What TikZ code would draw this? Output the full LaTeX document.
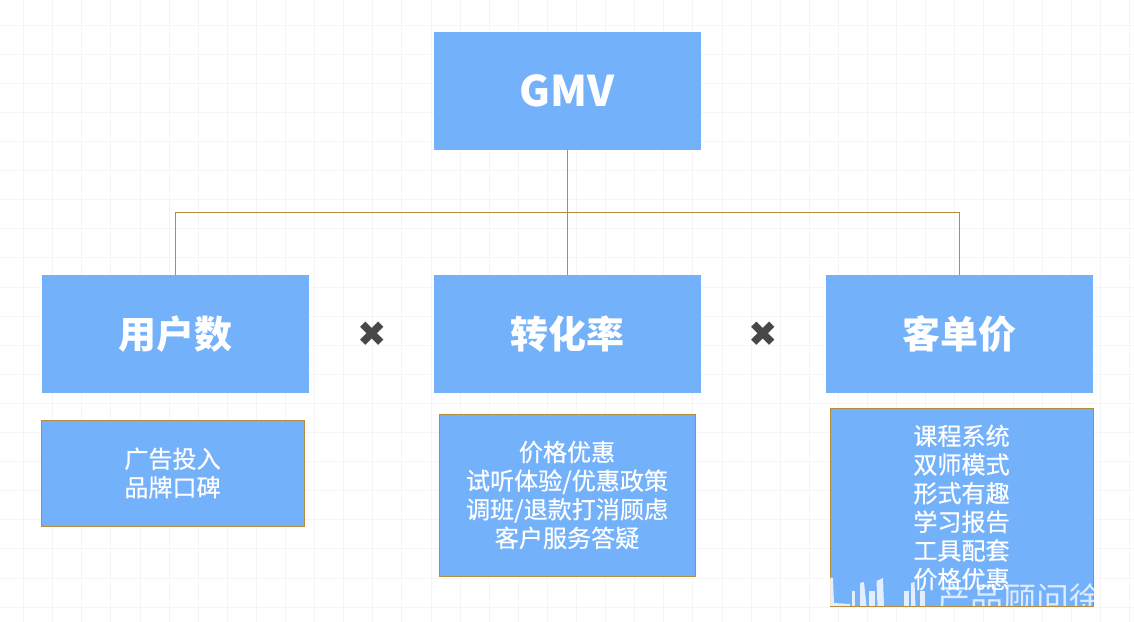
\documentclass[tikz,border=0pt]{standalone}
\usepackage{fontspec}
\setmainfont{Noto Sans CJK SC}
\newfontfamily\symfont{DejaVu Sans}
\newfontfamily\subfont[FakeBold=0.5]{Noto Sans CJK SC}
\definecolor{boxblue}{HTML}{74B1FB}
\definecolor{linkbrown}{HTML}{B98B3E}
\definecolor{gridgray}{HTML}{F5F5F5}
\tikzset{
    topbox/.style={fill=boxblue,text=white,font=\fontsize{21.6}{25}\selectfont\bfseries,minimum width=5.34cm,minimum height=2.36cm,inner sep=0pt},
    subbox/.style={draw=linkbrown,line width=0.45pt,fill=boxblue,text=white,font=\subfont\fontsize{13.7}{16.3}\selectfont,align=center,inner sep=0pt},
    link/.style={draw=linkbrown,line width=0.5pt},
    timesmark/.style={text=black!72,font=\symfont\fontsize{20}{22}\selectfont},
    logobar/.style={fill=white,opacity=0.8}
}
\begin{document}
\begin{tikzpicture}
    \useasboundingbox (0,0) rectangle (22.68,12.44);
    \fill [white] (0,0) rectangle (22.68,12.44);
    \foreach \i in {0,...,38}
        \draw [gridgray,line width=0.4pt] ({0.47+\i*0.582},0) -- ({0.47+\i*0.582},12.44);
    \foreach \i in {0,...,20}
        \draw [gridgray,line width=0.4pt] (0,{11.94-\i*0.582}) -- (22.68,{11.94-\i*0.582});

    \node [topbox] (gmv) at (11.35,10.62) {\fontsize{24}{27}\selectfont GMV};
    \node [topbox] (users) at (3.51,5.76) {用户数};
    \node [topbox] (rate) at (11.35,5.76) {转化率};
    \node [topbox] (price) at (19.19,5.76) {客单价};
    \coordinate (bus) at (11.35,8.19);

    \draw [link] (gmv) -- (rate);
    \draw [link] (bus) -| (users);
    \draw [link] (bus) -| (price);

    \node [timesmark] (times1) at (7.44,5.76) {✖};
    \node [timesmark] (times2) at (15.26,5.76) {✖};

    \node [subbox,minimum width=5.26cm,minimum height=2.12cm] (usersub) at (3.45,2.98) {广告投入\\品牌口碑};
    \node [subbox,minimum width=5.12cm,minimum height=3.24cm] (ratesub) at (11.34,2.54) {价格优惠\\试听体验/优惠政策\\调班/退款打消顾虑\\客户服务答疑};
    \node [subbox,minimum width=5.26cm,minimum height=3.96cm,anchor=north] (pricesub) at (19.23,4.28) {};
    \node [text=white,font=\subfont\fontsize{13.7}{16.3}\selectfont,align=center,anchor=north] (pricetext) at (19.23,4.07) {课程系统\\双师模式\\形式有趣\\学习报告\\工具配套\\价格优惠};

    % watermark
    \begin{scope}
        \clip (16.5,0.32) rectangle (21.95,0.95);
        \node [text=white,opacity=0.75,font=\fontsize{18.8}{20}\selectfont,anchor=west] (mark) at (18.62,0.46) {产品顾问徐};
        \fill [logobar] (16.6,0.32) -- (16.6,0.88) -- (16.66,0.88) -- (16.68,0.38) -- (17.0,0.36) -- (17.0,0.32) -- cycle;
        \fill [logobar] (17.03,0.32) rectangle (17.1,0.62);
        \fill [logobar] (17.2,0.32) -- (17.2,0.78) -- (17.28,0.8) -- (17.33,0.32) -- cycle;
        \fill [logobar] (17.37,0.32) rectangle (17.5,0.62);
        \fill [logobar] (17.55,0.32) -- (17.53,0.82) -- (17.66,0.88) -- (17.68,0.32) -- cycle;
        \fill [logobar] (18.07,0.32) rectangle (18.17,0.62);
        \fill [logobar] (18.22,0.32) -- (18.22,0.78) -- (18.29,0.8) -- (18.31,0.32) -- cycle;
        \fill [logobar] (18.4,0.32) rectangle (18.5,0.62);
    \end{scope}
\end{tikzpicture}
\end{document}
